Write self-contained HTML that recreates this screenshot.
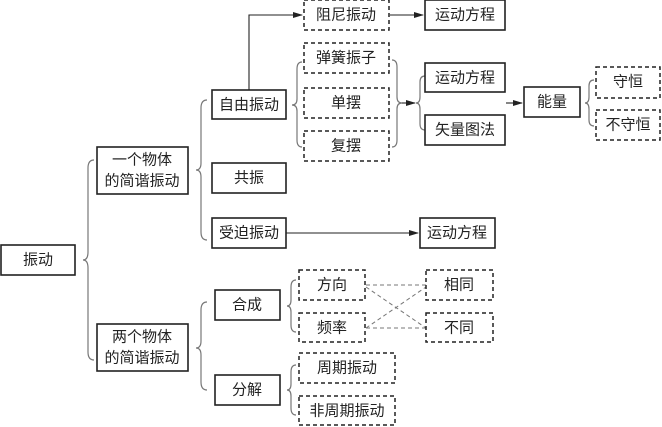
<!DOCTYPE html>
<html><head><meta charset="utf-8"><style>
html,body{margin:0;padding:0;background:#fff;}
svg{display:block;}
text{font-family:"Liberation Sans","Noto Sans CJK SC",sans-serif;font-size:15px;fill:#222;text-anchor:middle;dominant-baseline:central;}
.s{fill:#fff;stroke:#222;stroke-width:1.6;}
.d{fill:#fff;stroke:#222;stroke-width:1.5;stroke-dasharray:4,3;}
.b{fill:none;stroke:#777;stroke-width:1.2;}
.l{fill:none;stroke:#222;stroke-width:1.1;}
.dl{fill:none;stroke:#777;stroke-width:1;stroke-dasharray:4,3;}
</style></head><body>
<svg width="662" height="427" viewBox="0 0 662 427">
<defs><marker id="a" markerWidth="10" markerHeight="8" refX="9" refY="4" orient="auto" markerUnits="userSpaceOnUse"><path d="M0,1 L10,4 L0,7 Z" fill="#222"/></marker></defs>

<!-- braces -->
<!-- 振动 -->
<path class="b" d="M94,160 Q88,160 88,168 L88,252 Q88,260 83,260 Q88,260 88,268 L88,352 Q88,360 94,360"/>
<!-- 一个物体 -->
<path class="b" d="M207,100 Q201,100 201,108 L201,163 Q201,170 196,170 Q201,170 201,177 L201,232 Q201,240 207,240"/>
<!-- 两个物体 -->
<path class="b" d="M207,302 Q201,302 201,310 L201,341 Q201,348 196,348 Q201,348 201,355 L201,382 Q201,390 207,390"/>
<!-- 自由振动 -->
<path class="b" d="M302,62 Q297,62 297,69 L297,99 Q297,105 292,105 Q297,105 297,111 L297,140 Q297,147 302,147"/>
<!-- right brace of three -->
<path class="b" d="M392,60 Q397,60 397,67 L397,97 Q397,103 402,103 Q397,103 397,109 L397,140 Q397,147 392,147"/>
<!-- 运动方程/矢量图法 -->
<path class="b" d="M425,76 Q420,76 420,82 L420,97 Q420,103 416,103 Q420,103 420,109 L420,124 Q420,130 425,130"/>
<!-- 守恒 -->
<path class="b" d="M594,80 Q589,80 589,86 L589,97 Q589,103 585,103 Q589,103 589,109 L589,120 Q589,126 594,126"/>
<!-- 合成 -->
<path class="b" d="M296,280 Q291,280 291,287 L291,300 Q291,306 287,306 Q291,306 291,312 L291,325 Q291,332 296,332"/>
<!-- 分解 -->
<path class="b" d="M296,365 Q291,365 291,372 L291,384 Q291,390 287,390 Q291,390 291,396 L291,408 Q291,415 296,415"/>

<!-- connectors -->
<path class="l" d="M249,90 L249,15 L302,15" marker-end="url(#a)"/>
<path class="l" d="M390,15 L423,15" marker-end="url(#a)"/>
<path class="l" d="M402,103 L415,103" marker-end="url(#a)"/>
<path class="l" d="M506,103 L522,103" marker-end="url(#a)"/>
<path class="l" d="M286,233 L418,233" marker-end="url(#a)"/>
<path class="dl" d="M366,285 L426,285 M366,287 L426,328 M366,328 L426,287 M366,328 L426,328"/>

<!-- solid boxes -->
<rect class="s" x="1" y="245" width="74" height="30"/><text x="38" y="260">振动</text>
<rect class="s" x="97" y="147" width="91" height="47"/><text x="142" y="160">一个物体</text><text x="142" y="181">的简谐振动</text>
<rect class="s" x="97" y="324" width="91" height="47"/><text x="142" y="337">两个物体</text><text x="142" y="358">的简谐振动</text>
<rect class="s" x="212" y="90" width="74" height="29"/><text x="249" y="105">自由振动</text>
<rect class="s" x="212" y="163" width="74" height="30"/><text x="249" y="178">共振</text>
<rect class="s" x="212" y="218" width="74" height="30"/><text x="249" y="233">受迫振动</text>
<rect class="s" x="420" y="218" width="75" height="30"/><text x="457" y="233">运动方程</text>
<rect class="s" x="425" y="0" width="80" height="30"/><text x="465" y="15">运动方程</text>
<rect class="s" x="425" y="63" width="80" height="29"/><text x="465" y="78">运动方程</text>
<rect class="s" x="425" y="115" width="80" height="30"/><text x="465" y="130">矢量图法</text>
<rect class="s" x="524" y="87" width="56" height="30"/><text x="552" y="102">能量</text>
<rect class="s" x="215" y="290" width="65" height="30"/><text x="247" y="305">合成</text>
<rect class="s" x="215" y="375" width="65" height="30"/><text x="247" y="390">分解</text>

<!-- dashed boxes -->
<rect class="d" x="304" y="0" width="85" height="30"/><text x="346" y="15">阻尼振动</text>
<rect class="d" x="304" y="43" width="85" height="30"/><text x="346" y="58">弹簧振子</text>
<rect class="d" x="304" y="88" width="85" height="30"/><text x="346" y="103">单摆</text>
<rect class="d" x="304" y="131" width="85" height="30"/><text x="346" y="146">复摆</text>
<rect class="d" x="596" y="67" width="64" height="31"/><text x="628" y="82">守恒</text>
<rect class="d" x="596" y="110" width="64" height="30"/><text x="628" y="125">不守恒</text>
<rect class="d" x="299" y="270" width="66" height="30"/><text x="332" y="285">方向</text>
<rect class="d" x="299" y="313" width="66" height="29"/><text x="332" y="328">频率</text>
<rect class="d" x="426" y="270" width="67" height="30"/><text x="459" y="285">相同</text>
<rect class="d" x="426" y="313" width="67" height="29"/><text x="459" y="328">不同</text>
<rect class="d" x="299" y="353" width="96" height="30"/><text x="347" y="368">周期振动</text>
<rect class="d" x="299" y="396" width="96" height="29"/><text x="347" y="411">非周期振动</text>
</svg>
</body></html>
